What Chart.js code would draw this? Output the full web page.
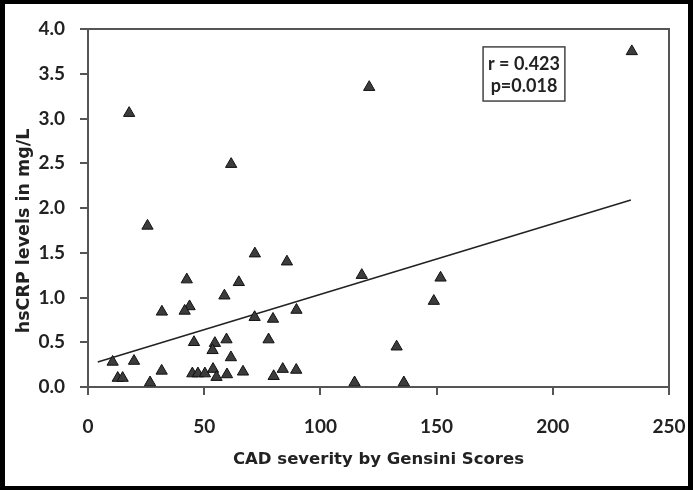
<!DOCTYPE html>
<html>
<head>
<meta charset="utf-8">
<script src="https://cdn.jsdelivr.net/npm/chart.js@4"></script>
<style>
  html, body { margin: 0; padding: 0; background: #fff; }
  canvas { display: block; }
</style>
</head>
<body>
<canvas id="myChart" width="693" height="490"></canvas>
<script>
const ctx = document.getElementById("myChart").getContext("2d");

// Gensini score vs hsCRP
const gensini = [234, 121, 17.7, 61.6, 25.6, 71.8, 85.6, 117.8, 151.7, 42.5, 64.9, 58.7, 148.8, 43.7, 41.6, 31.8,
  89.7, 71.7, 79.6, 132.8, 45.6, 54.6, 59.6, 77.7, 53.6, 61.5, 10.6, 19.8, 31.7, 83.8, 89.6, 66.7,
  44.9, 47.3, 50.3, 53.8, 55.3, 59.8, 79.9, 12.8, 14.9, 26.7, 114.7, 135.9];
const hscrp = [3.75, 3.35, 3.06, 2.49, 1.80, 1.49, 1.40, 1.25, 1.22, 1.20, 1.17, 1.02, 0.96, 0.90, 0.85, 0.84,
  0.86, 0.78, 0.76, 0.45, 0.50, 0.49, 0.53, 0.53, 0.41, 0.33, 0.28, 0.29, 0.18, 0.20, 0.19, 0.17,
  0.15, 0.15, 0.15, 0.20, 0.11, 0.14, 0.12, 0.10, 0.10, 0.05, 0.05, 0.05];

// fitted line end points
const trendX = [4.2, 233.6];
const trendY = [0.28, 2.09];

const xTicks = [0, 50, 100, 150, 200, 250];
const yTicks = [0, 0.5, 1, 1.5, 2, 2.5, 3, 3.5, 4];
const statsText = ["r = 0.423", "p=0.018"];
const yTitle = "hsCRP levels in mg/L";

const FONT = "Lato, 'Open Sans', sans-serif";
const TITLE_FONT = "'DejaVu Sans', sans-serif";
const INK = "#222";
const AXIS = "#555";

const boxPlugin = {
  id: "boxPlugin",
  beforeDatasetsDraw(chart) {
    const a = chart.chartArea;
    const c = chart.ctx;
    c.save();
    c.strokeStyle = AXIS;
    c.lineWidth = 2;
    c.strokeRect(a.left, a.top, a.right - a.left, a.bottom - a.top);
    c.restore();
  },
  afterDraw(chart) {
    const c = chart.ctx;
    const xs = chart.scales.x;
    const ys = chart.scales.y;
    // stats box
    const l = xs.getPixelForValue(170), r = xs.getPixelForValue(205.2);
    const t = ys.getPixelForValue(3.8), b = ys.getPixelForValue(3.195);
    c.save();
    c.fillStyle = "#fff";
    c.fillRect(l, t, r - l, b - t);
    c.strokeStyle = "#444";
    c.lineWidth = 1.5;
    c.strokeRect(l, t, r - l, b - t);
    c.fillStyle = INK;
    c.font = "bold 18px " + FONT;
    c.textAlign = "center";
    c.textBaseline = "middle";
    c.fillText(statsText[0], (l + r) / 2, t + 17);
    c.fillText(statsText[1], (l + r) / 2, t + 39);

    // y title sits a bit below the middle of the axis in the original
    c.save();
    c.translate(24, 231);
    c.rotate(-Math.PI / 2);
    c.font = "bold 17.5px " + TITLE_FONT;
    c.fillText(yTitle, 0, 0);
    c.restore();

    // black frame round the picture
    c.fillStyle = "#000";
    const W = chart.width, H = chart.height;
    c.fillRect(0, 0, W, 4);
    c.fillRect(0, H - 4, W, 4);
    c.fillRect(0, 0, 5, H);
    c.fillRect(W - 5, 0, 5, H);
    c.restore();
  },
};

new Chart(ctx, {
  type: "scatter",
  data: {
    datasets: [
      {
        label: "hsCRP",
        data: gensini.map((g, i) => ({ x: g, y: hscrp[i] })),
        pointStyle: "triangle",
        pointRadius: 6.5,
        backgroundColor: "#3c3c3c",
        borderColor: "#111",
        borderWidth: 1,
      },
      {
        type: "line",
        label: "fit",
        data: trendX.map((g, i) => ({ x: g, y: trendY[i] })),
        borderColor: "#222",
        borderWidth: 1.6,
        pointRadius: 0,
        fill: false,
      },
    ],
  },
  options: {
    responsive: false,
    animation: false,
    devicePixelRatio: 1,
    layout: { padding: { left: 0, top: 29, right: 24, bottom: 0 } },
    plugins: {
      legend: { display: false },
      tooltip: { enabled: false },
    },
    scales: {
      x: {
        type: "linear",
        min: 0,
        max: 250,
        afterBuildTicks: (s) => { s.ticks = xTicks.map((v) => ({ value: v })); },
        afterFit: (s) => { s.height = 103; s.paddingRight = 0; s.paddingLeft = 0; },
        grid: { drawOnChartArea: false, tickLength: 8, color: AXIS, lineWidth: 2 },
        border: { color: AXIS, width: 2 },
        ticks: { color: INK, padding: 20, font: { family: FONT, size: 19, weight: "bold" } },
        title: {
          display: true,
          text: "CAD severity by Gensini Scores",
          color: INK,
          padding: { top: 20, bottom: 20 },
          font: { family: TITLE_FONT, size: 16.5, weight: "bold" },
        },
      },
      y: {
        min: 0,
        max: 4,
        afterBuildTicks: (s) => { s.ticks = yTicks.map((v) => ({ value: v })); },
        afterFit: (s) => { s.width = 88; },
        grid: { drawOnChartArea: false, tickLength: 8, color: AXIS, lineWidth: 2 },
        border: { color: AXIS, width: 2 },
        ticks: {
          color: INK,
          padding: 15,
          font: { family: FONT, size: 19, weight: "bold" },
          callback: (v) => Number(v).toFixed(1),
        },
        title: { display: false },
      },
    },
  },
  plugins: [boxPlugin],
});
</script>
</body>
</html>
